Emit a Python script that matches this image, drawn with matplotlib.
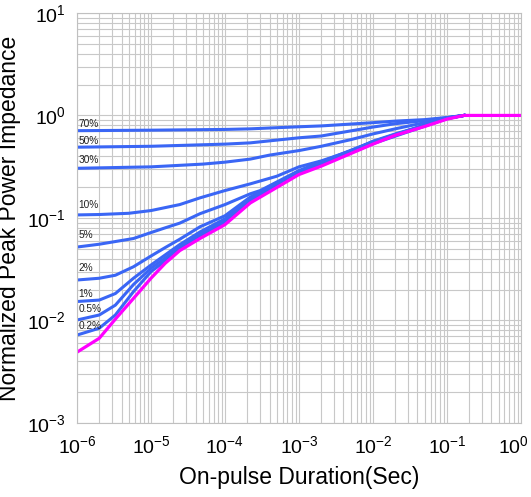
import matplotlib
matplotlib.use("Agg")
from matplotlib import pyplot as plt
from matplotlib.ticker import LogLocator, FixedLocator
import matplotlib.transforms as mtransforms
import numpy as np

plt.rcParams['font.family'] = ['Liberation Sans', 'DejaVu Sans']
plt.rcParams['mathtext.fontset'] = 'custom'
plt.rcParams['mathtext.rm'] = 'Liberation Sans'
plt.rcParams['mathtext.it'] = 'Liberation Sans:italic'
plt.rcParams['mathtext.bf'] = 'Liberation Sans:bold'

# duty-cycle curves (x = pulse duration in s, y = normalized impedance)
t_high = [1e-6, 1e-5, 1e-4, 2.2e-4, 1e-3, 2e-3, 1e-2, 2e-2, 5e-2, 1e-1, 1.7e-1]
d70 = [0.71, 0.718, 0.73, 0.74, 0.775, 0.79, 0.85, 0.88, 0.91, 0.955, 1.0]
d50 = [0.49, 0.50, 0.525, 0.54, 0.605, 0.63, 0.77, 0.83, 0.89, 0.95, 1.0]

t_30 = [1e-6, 1e-5, 5e-5, 1e-4, 2.2e-4, 4e-4, 1e-3, 2e-3, 5e-3, 1e-2, 2e-2, 5e-2, 1e-1, 1.7e-1]
d30 = [0.305, 0.315, 0.335, 0.35, 0.375, 0.41, 0.454, 0.50, 0.58, 0.66, 0.74, 0.85, 0.94, 1.0]

t_10 = [1e-6, 2e-6, 5e-6, 1e-5, 2.45e-5, 4.6e-5, 1e-4, 2.2e-4, 5e-4, 1e-3, 2e-3, 5e-3, 1e-2, 2e-2, 5e-2, 1e-1, 1.7e-1]
d10 = [0.107, 0.108, 0.111, 0.118, 0.135, 0.157, 0.185, 0.215, 0.255, 0.315, 0.36, 0.45, 0.56, 0.66, 0.80, 0.93, 1.0]

t_5 = [1e-6, 2e-6, 5.8e-6, 1e-5, 1.55e-5, 2.45e-5, 4.6e-5, 1e-4, 2.2e-4, 3e-4, 1e-3, 1e-2, 1e-1, 1.7e-1]
d5 = [0.052, 0.0554, 0.063, 0.072, 0.080, 0.089, 0.11, 0.135, 0.172, 0.185, 0.29, 0.555, 0.94, 1.0]

t_low = [1e-6, 2e-6, 3.3e-6, 5.8e-6, 1e-5, 1.55e-5, 2.45e-5, 4.6e-5, 1e-4, 2.2e-4, 1e-3, 1e-2, 1e-1, 1.7e-1]
d2 = [0.0248, 0.0258, 0.0276, 0.0334, 0.0425, 0.0513, 0.062, 0.082, 0.105, 0.16, 0.285, 0.55, 0.94, 1.0]
d1 = [0.0153, 0.0158, 0.0183, 0.0258, 0.0347, 0.0435, 0.055, 0.073, 0.098, 0.155, 0.28, 0.545, 0.94, 1.0]
d05 = [0.0101, 0.0113, 0.0141, 0.0224, 0.0323, 0.0405, 0.052, 0.069, 0.094, 0.15, 0.275, 0.54, 0.935, 1.0]
d02 = [0.0072, 0.0084, 0.0113, 0.0191, 0.0299, 0.038, 0.050, 0.066, 0.09, 0.145, 0.27, 0.53, 0.93, 1.0]

# single pulse
t_sp = [1e-6, 2e-6, 3.3e-6, 5.8e-6, 1e-5, 1.55e-5, 2.45e-5, 4.6e-5, 1e-4, 2.2e-4, 1e-3, 2e-3, 5e-3, 1e-2, 2e-2, 5e-2, 1e-1, 1.7e-1, 1.0]
sp = [0.0049, 0.0067, 0.0103, 0.0164, 0.0258, 0.036, 0.048, 0.063, 0.086, 0.14, 0.265, 0.32, 0.424, 0.525, 0.64, 0.78, 0.92, 1.0, 1.0]

labels = ['70%', '50%', '30%', '10%', '5%', '2%', '1%', '0.5%', '0.2%']
label_y = [0.826, 0.564, 0.368, 0.134, 0.0683, 0.0323, 0.0181, 0.0129, 0.0089]

xticks = [1e-6, 1e-5, 1e-4, 1e-3, 1e-2, 1e-1, 1e0]
yticks = [1e-3, 1e-2, 1e-1, 1e0, 1e1]

blue = '#3a66f5'
pink = '#ff00ff'

fig = plt.figure(figsize=(5.31, 4.97), dpi=100)
ax = fig.add_axes([0.145, 0.149, 0.836, 0.825])
ax.set_xscale('log')
ax.set_yscale('log')

curves = [(t_high, d70), (t_high, d50), (t_30, d30), (t_10, d10), (t_5, d5),
	(t_low, d2), (t_low, d1), (t_low, d05), (t_low, d02)]
for tx, ty in curves:
	ax.plot(tx, ty, color=blue, lw=2.2, solid_joinstyle='round')
ax.plot(t_sp, sp, color=pink, lw=2.3, solid_joinstyle='round')

for lab, ly in zip(labels, label_y):
	ax.text(1.04e-6, ly, lab, fontsize=7.3, ha='left', va='center', color='#222222')

ax.set_xlim(1e-6, 1)
ax.set_ylim(1e-3, 10)
ax.xaxis.set_major_locator(FixedLocator(xticks))
ax.xaxis.set_minor_locator(LogLocator(base=10, subs=np.arange(2, 10), numticks=20))
ax.yaxis.set_major_locator(FixedLocator(yticks))
ax.yaxis.set_minor_locator(LogLocator(base=10, subs=np.arange(2, 10), numticks=20))
ax.grid(True, which='both', color='#c8c8c8', lw=0.8)
ax.set_axisbelow(True)
for s in ax.spines.values():
	s.set_color('#c0c0c0')
ax.tick_params(which='both', length=0)
ax.tick_params(axis='x', labelsize=14, pad=9)
ax.tick_params(axis='y', labelsize=14, pad=8)

ax.set_xlabel('On-pulse Duration(Sec)', fontsize=16.5, labelpad=6)
ax.set_ylabel('Normalized Peak Power Impedance', fontsize=16.5, labelpad=4)

# keep the last x label inside the picture
fig.canvas.draw()
last = ax.xaxis.get_major_ticks()[-1].label1
last.set_ha('right')
last.set_transform(last.get_transform() + mtransforms.ScaledTranslation(6 / 72, 0, fig.dpi_scale_trans))

fig.savefig('out.png', dpi=100)
